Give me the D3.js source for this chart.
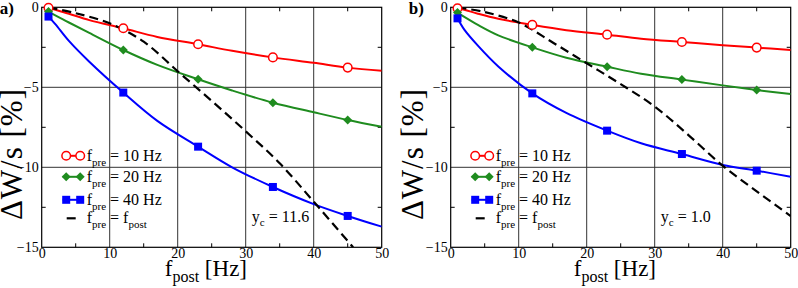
<!DOCTYPE html>
<html>
<head>
<meta charset="utf-8">
<script src="https://cdn.jsdelivr.net/npm/d3@7"></script>
</head>
<body style="margin:0">
<script>
let svgWidth = 798;
let svgHeight = 288;
let fontName = "\"Liberation Serif\"";

// x positions of the curves (Hz) and of the symbols
let xCurve = [1, 2, 4, 7, 12, 17, 23, 28, 34, 40, 45, 50];
let xMarks = [1, 12, 23, 34, 45];

// panel a) y_c = 11.6
let redA   = [-0.03, -0.15, -0.4, -0.8, -1.31, -1.85, -2.31, -2.72, -3.13, -3.47, -3.77, -3.96];
let greenA = [-0.27, -0.5, -0.95, -1.6, -2.67, -3.6, -4.5, -5.2, -5.96, -6.56, -7.04, -7.46];
let blueA  = [-0.58, -1.05, -2.1, -3.4, -5.33, -7.1, -8.71, -10.0, -11.23, -12.3, -13.04, -13.71];
let xDashA = [1, 5, 10, 15, 20, 25, 30, 35, 40, 45.8];
let dashA  = [0, -0.37, -1.0, -2.15, -4.0, -5.85, -7.75, -9.75, -12.15, -15];

// panel b) y_c = 1.0
let redB   = [-0.06, -0.15, -0.4, -0.72, -1.1, -1.43, -1.71, -1.96, -2.17, -2.37, -2.52, -2.67];
let greenB = [-0.33, -0.6, -1.1, -1.75, -2.5, -3.15, -3.71, -4.15, -4.52, -4.88, -5.17, -5.42];
let blueB  = [-0.69, -1.4, -2.4, -3.7, -5.38, -6.6, -7.71, -8.5, -9.17, -9.85, -10.21, -10.59];
let xDashB = [1, 5, 10, 15, 20, 25, 30, 35, 40, 45, 50];
let dashB  = [0, -0.3, -0.95, -2.2, -3.5, -4.8, -6.2, -8.0, -9.9, -11.5, -13.05];

let xTicks = [0, 10, 20, 30, 40, 50];
let yTicks = [0, -5, -10, -15];
let legendHz = ["10", "20", "40"];

let red = "#ff0000", green = "#1f8c1f", blue = "#0000ff";

let svg = d3.select("body")
            .append("svg")
            .attr("width", svgWidth)
            .attr("height", svgHeight);

// every text gets the serif font set directly
function addText(sel, size) {
    return sel.append("text")
        .style("font-family", fontName)
        .attr("font-size", size);
}

function drawPanel(left, label, yc, red_, green_, blue_, xDash, dash, clipId, yTitleX) {
    let width = 340, height = 240, top = 7.3;
    let g = svg.append("g").attr("transform", `translate(${left}, ${top})`);

    let x = d3.scaleLinear().domain([0, 50]).range([0, width]);
    let y = d3.scaleLinear().domain([-15, 0]).range([height, 0]);

    g.append("clipPath").attr("id", clipId)
        .append("rect").attr("width", width).attr("height", height);

    // grid
    g.selectAll(".vgrid").data([10, 20, 30, 40]).enter().append("line")
        .attr("x1", d => x(d)).attr("x2", d => x(d))
        .attr("y1", 0).attr("y2", height)
        .attr("stroke", "#333").attr("stroke-width", 1);
    g.selectAll(".hgrid").data([-5, -10]).enter().append("line")
        .attr("x1", 0).attr("x2", width)
        .attr("y1", d => y(d)).attr("y2", d => y(d))
        .attr("stroke", "#333").attr("stroke-width", 1);

    // minor ticks inside on all sides
    let xMinor = [5, 15, 25, 35, 45], yMinor = [-2.5, -7.5, -12.5];
    xMinor.forEach(v => {
        g.append("line").attr("x1", x(v)).attr("x2", x(v)).attr("y1", height).attr("y2", height - 4).attr("stroke", "#000");
        g.append("line").attr("x1", x(v)).attr("x2", x(v)).attr("y1", 0).attr("y2", 4).attr("stroke", "#000");
    });
    yMinor.forEach(v => {
        g.append("line").attr("x1", 0).attr("x2", 4).attr("y1", y(v)).attr("y2", y(v)).attr("stroke", "#000");
        g.append("line").attr("x1", width).attr("x2", width - 4).attr("y1", y(v)).attr("y2", y(v)).attr("stroke", "#000");
    });

    // axes (labels only)
    let xAxis = d3.axisBottom(x).tickValues(xTicks).tickSize(0).tickPadding(1);
    let yAxis = d3.axisLeft(y).tickValues(yTicks).tickSize(0).tickPadding(3);
    let gx = g.append("g").attr("transform", `translate(0, ${height})`).call(xAxis);
    let gy = g.append("g").call(yAxis);
    [gx, gy].forEach(a => {
        a.attr("font-family", fontName).attr("font-size", 14);
        a.select(".domain").remove();
        a.selectAll("text").style("font-family", fontName)
            .attr("font-size", 14).attr("fill", "#000");
    });

    // frame
    g.append("rect").attr("width", width).attr("height", height)
        .attr("fill", "none").attr("stroke", "#000").attr("stroke-width", 1.2);

    let plot = g.append("g").attr("clip-path", `url(#${clipId})`);
    let line = d3.line().x(d => x(d[0])).y(d => y(d[1])).curve(d3.curveCatmullRom.alpha(0.5));

    let series = [
        {vals: red_, color: red, shape: "circle"},
        {vals: green_, color: green, shape: "diamond"},
        {vals: blue_, color: blue, shape: "square"}
    ];
    series.forEach(s => {
        let pts = xCurve.map((xv, i) => [xv, s.vals[i]]);
        plot.append("path").datum(pts)
            .attr("d", line).attr("fill", "none")
            .attr("stroke", s.color).attr("stroke-width", 2);
    });

    plot.append("path").datum(xDash.map((xv, i) => [xv, dash[i]]))
        .attr("d", line).attr("fill", "none")
        .attr("stroke", "#000").attr("stroke-width", 2.2)
        .attr("stroke-dasharray", "9,5");

    function marker(sel, shape, color, cx, cy) {
        if (shape === "circle") {
            sel.append("circle").attr("cx", cx).attr("cy", cy).attr("r", 4.3)
                .attr("fill", "#fff").attr("stroke", color).attr("stroke-width", 1.5);
        } else if (shape === "diamond") {
            sel.append("path").attr("d", `M${cx},${cy - 4.5}L${cx + 4.5},${cy}L${cx},${cy + 4.5}L${cx - 4.5},${cy}Z`)
                .attr("fill", color);
        } else {
            sel.append("rect").attr("x", cx - 4).attr("y", cy - 4).attr("width", 8).attr("height", 8)
                .attr("fill", color);
        }
    }

    series.forEach(s => {
        xCurve.forEach((xv, i) => {
            if (xMarks.includes(xv)) marker(g, s.shape, s.color, x(xv), y(s.vals[i]));
        });
    });

    // legend
    let legY = [148.5, 169.5, 192.5, 211];
    series.forEach((s, i) => {
        let ly = legY[i];
        g.append("line").attr("x1", 21).attr("x2", 41).attr("y1", ly).attr("y2", ly)
            .attr("stroke", s.color).attr("stroke-width", 2);
        marker(g, s.shape, s.color, 24.5, ly);
        marker(g, s.shape, s.color, 38.5, ly);
        let t = addText(g, 16).attr("x", 45).attr("y", ly + 5);
        t.append("tspan").text("f");
        t.append("tspan").attr("font-size", 11).attr("dy", 5).text("pre");
        t.append("tspan").attr("dy", -5).text(` = ${legendHz[i]} Hz`);
    });
    g.append("line").attr("x1", 25).attr("x2", 34).attr("y1", legY[3]).attr("y2", legY[3])
        .attr("stroke", "#000").attr("stroke-width", 2.2);
    let t4 = addText(g, 16).attr("x", 45).attr("y", legY[3] + 5);
    t4.append("tspan").text("f");
    t4.append("tspan").attr("font-size", 11).attr("dy", 5).text("pre");
    t4.append("tspan").attr("dy", -5).text(" = f");
    t4.append("tspan").attr("font-size", 11).attr("dy", 5).text("post");

    // y_c annotation
    let tc = addText(g, 16).attr("x", x(30.9)).attr("y", 214.4);
    tc.append("tspan").text("y");
    tc.append("tspan").attr("font-size", 11).attr("dy", 4).text("c");
    tc.append("tspan").attr("dy", -4).text(` = ${yc}`);

    // axis titles
    let xt = addText(g, 23).attr("x", 205.3).attr("y", height + 28.7)
        .attr("text-anchor", "end");
    xt.append("tspan").text("f");
    xt.append("tspan").attr("font-size", 16).attr("dy", 6).text("post");
    xt.append("tspan").attr("dy", -6).text(" [Hz]");

    addText(g, 31).attr("transform", `translate(${yTitleX}, 80.7) rotate(-90)`)
        .attr("text-anchor", "end")
        .attr("letter-spacing", 1)
        .text("\u0394W/s [%]");

    // panel label
    addText(svg, 17).attr("x", left - 42).attr("y", 14)
        .attr("font-weight", "bold").text(label);
}

drawPanel(41.7, "a)", "11.6", redA, greenA, blueA, xDashA, dashA, "clipA", -20.2);
drawPanel(450.7, "b)", "1.0", redB, greenB, blueB, xDashB, dashB, "clipB", -28.2);
</script>
</body>
</html>
